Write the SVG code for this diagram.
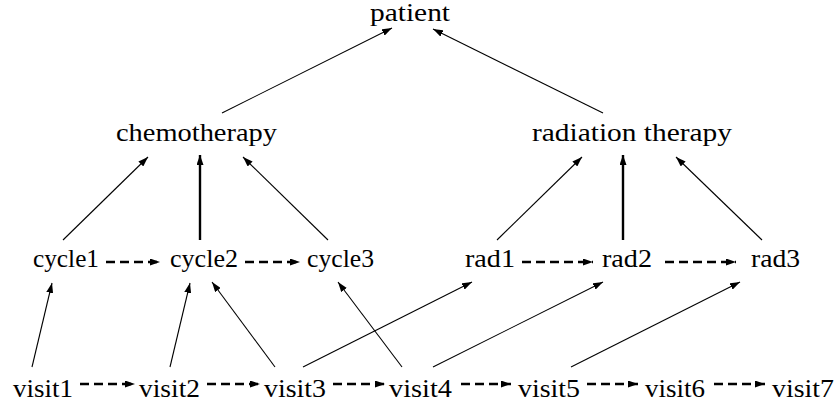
<svg xmlns="http://www.w3.org/2000/svg" width="836" height="409" viewBox="0 0 836 409">
<style>
text{font-size:25px;fill:#000}
.thin{stroke:#000;stroke-width:1.1;fill:none}
.thick{stroke:#000;stroke-width:2.4;fill:none}
.dash{stroke:#000;stroke-width:2.6;fill:none;stroke-dasharray:9,5}
</style>
<defs>
<marker id="ah" markerUnits="userSpaceOnUse" markerWidth="10" markerHeight="7" refX="10" refY="3.5" orient="auto">
<path d="M0,0 L10,3.5 L0,7 z" fill="#000"/>
</marker>
</defs>
<rect width="836" height="409" fill="#fff"/>
<g id="connectors">
<line class="thin" x1="222" y1="113" x2="392" y2="28" marker-end="url(#ah)"/>
<line class="thin" x1="603" y1="113" x2="433" y2="29" marker-end="url(#ah)"/>
<line class="thin" x1="63" y1="240" x2="148" y2="157" marker-end="url(#ah)"/>
<line class="thick" x1="200" y1="240" x2="200" y2="155" marker-end="url(#ah)"/>
<line class="thin" x1="328" y1="240" x2="243" y2="157" marker-end="url(#ah)"/>
<line class="thin" x1="497" y1="240" x2="582" y2="157" marker-end="url(#ah)"/>
<line class="thick" x1="623" y1="240" x2="623" y2="155" marker-end="url(#ah)"/>
<line class="thin" x1="762" y1="240" x2="676" y2="157" marker-end="url(#ah)"/>
<line class="dash" x1="106" y1="262" x2="160" y2="262" marker-end="url(#ah)"/>
<line class="dash" x1="245" y1="262" x2="300" y2="262" marker-end="url(#ah)"/>
<line class="dash" x1="522" y1="262" x2="593" y2="262" marker-end="url(#ah)"/>
<line class="dash" x1="665" y1="262" x2="736" y2="262" marker-end="url(#ah)"/>
<line class="thin" x1="32" y1="367" x2="52" y2="283" marker-end="url(#ah)"/>
<line class="thin" x1="170" y1="367" x2="190" y2="283" marker-end="url(#ah)"/>
<line class="thin" x1="275" y1="367" x2="212" y2="282" marker-end="url(#ah)"/>
<line class="thin" x1="402" y1="367" x2="338" y2="282" marker-end="url(#ah)"/>
<line class="thin" x1="303" y1="367" x2="472" y2="282" marker-end="url(#ah)"/>
<line class="thin" x1="433" y1="367" x2="603" y2="282" marker-end="url(#ah)"/>
<line class="thin" x1="571" y1="367" x2="740" y2="282" marker-end="url(#ah)"/>
<line class="dash" x1="80" y1="384" x2="135" y2="384" marker-end="url(#ah)"/>
<line class="dash" x1="207" y1="384" x2="260" y2="384" marker-end="url(#ah)"/>
<line class="dash" x1="333" y1="384" x2="385" y2="384" marker-end="url(#ah)"/>
<line class="dash" x1="461" y1="384" x2="511" y2="384" marker-end="url(#ah)"/>
<line class="dash" x1="587" y1="384" x2="638" y2="384" marker-end="url(#ah)"/>
<line class="dash" x1="714" y1="384" x2="765" y2="384" marker-end="url(#ah)"/>
</g>
<g font-family="Liberation Serif, serif">
<g id="patient"><text x="370" y="21" textLength="80" lengthAdjust="spacingAndGlyphs">patient</text></g>
<g id="chemotherapy"><text x="116" y="141" textLength="161" lengthAdjust="spacingAndGlyphs">chemotherapy</text></g>
<g id="radiation"><text x="532" y="141" textLength="200" lengthAdjust="spacingAndGlyphs">radiation therapy</text></g>
<g id="cycle1"><text x="33" y="267" textLength="66" lengthAdjust="spacingAndGlyphs">cycle1</text></g>
<g id="cycle2"><text x="170" y="267" textLength="68" lengthAdjust="spacingAndGlyphs">cycle2</text></g>
<g id="cycle3"><text x="307" y="267" textLength="67" lengthAdjust="spacingAndGlyphs">cycle3</text></g>
<g id="rad1"><text x="465" y="267" textLength="50" lengthAdjust="spacingAndGlyphs">rad1</text></g>
<g id="rad2"><text x="602" y="267" textLength="50" lengthAdjust="spacingAndGlyphs">rad2</text></g>
<g id="rad3"><text x="751" y="267" textLength="49" lengthAdjust="spacingAndGlyphs">rad3</text></g>
<g id="visit1"><text x="13" y="397" textLength="60" lengthAdjust="spacingAndGlyphs">visit1</text></g>
<g id="visit2"><text x="139" y="397" textLength="61" lengthAdjust="spacingAndGlyphs">visit2</text></g>
<g id="visit3"><text x="264" y="397" textLength="62" lengthAdjust="spacingAndGlyphs">visit3</text></g>
<g id="visit4"><text x="389" y="397" textLength="63" lengthAdjust="spacingAndGlyphs">visit4</text></g>
<g id="visit5"><text x="518" y="397" textLength="62" lengthAdjust="spacingAndGlyphs">visit5</text></g>
<g id="visit6"><text x="645" y="397" textLength="60" lengthAdjust="spacingAndGlyphs">visit6</text></g>
<g id="visit7"><text x="772" y="397" textLength="62" lengthAdjust="spacingAndGlyphs">visit7</text></g>
</g>
</svg>
